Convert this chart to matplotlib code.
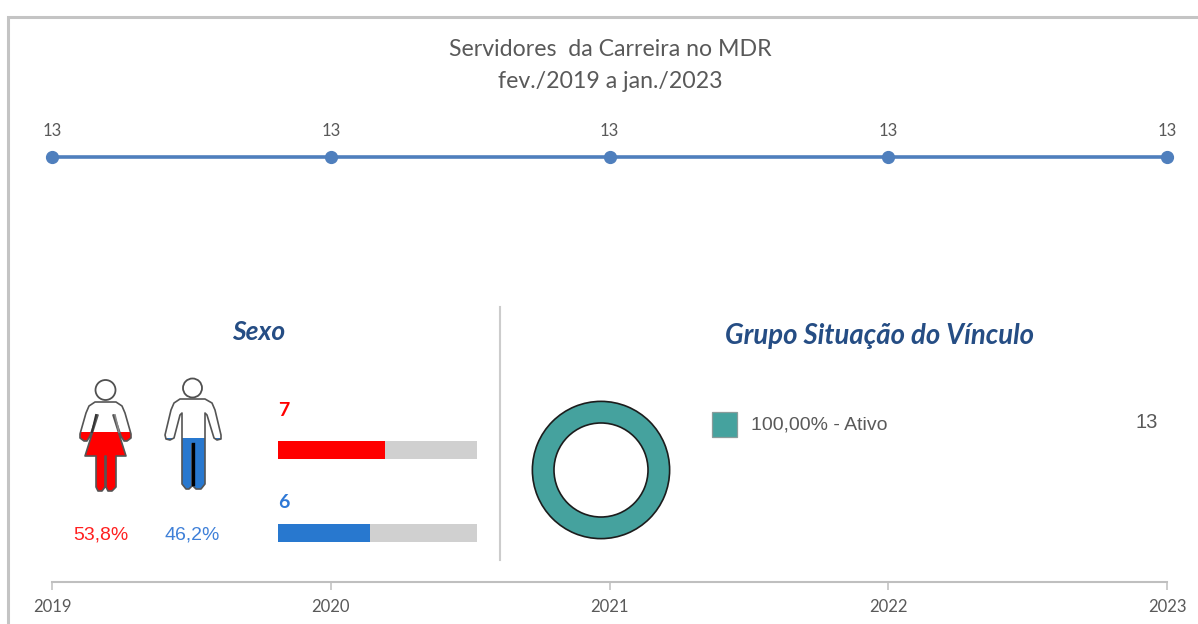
import numpy as np
import matplotlib
matplotlib.use('Agg')
from matplotlib import pyplot as plt
from matplotlib.patches import Circle, Polygon, Rectangle

W, H = 1198, 624

years = ['2019', '2020', '2021', '2022', '2023']
servidores = [13, 13, 13, 13, 13]
sexo_nomes = ['Feminino', 'Masculino']
sexo_valores = [7, 6]
sexo_pct = ['53,8%', '46,2%']
sexo_cores = ['#ff0000', '#2878cf']
vinculo_nomes = ['100,00% - Ativo']
vinculo_valores = [13]

TXT = '#595959'
CAL = 'Lato'
ARI = 'Liberation Sans'


def box(x0, y0, x1, y1):
    # pixel box (y from the top) to figure coords
    return [x0 / W, 1 - y1 / H, (x1 - x0) / W, (y1 - y0) / H]


fig = plt.figure(figsize=(W / 100, H / 100), dpi=100)

# overlay in pixels, for frame and icons
bg = fig.add_axes([0, 0, 1, 1], zorder=0)
bg.set_xlim(0, W)
bg.set_ylim(H, 0)
bg.axis('off')
bg.plot([8, 8, W], [H, 16.5, 16.5], color='#c4c4c4', lw=2.2, solid_joinstyle='miter')
bg.plot([499.5, 499.5], [307, 560], color='#cccccc', lw=1.5)

# main line
ax = fig.add_axes(box(52, 100, 1167, 582), zorder=1)
ax.patch.set_alpha(0)
x = np.arange(len(years))
ax.plot(x, servidores, color='#4f7fbd', lw=2.6, marker='o', ms=8.5, clip_on=False)
ax.set_xlim(0, len(years) - 1)
ax.set_ylim(0, 14.74)
ax.set_yticks([])
for s in ['top', 'left', 'right']:
    ax.spines[s].set_visible(False)
ax.spines['bottom'].set_color('#bfbfbf')
ax.spines['bottom'].set_linewidth(1.5)
ax.set_xticks(x)
ax.set_xticklabels(years, fontsize=12, color=TXT, family=CAL)
ax.tick_params(axis='x', length=6, width=1.1, color='#bfbfbf', pad=6)
for xi, v in zip(x, servidores):
    ax.annotate(str(v), (xi, v), xytext=(0, 13), textcoords='offset points', ha='center',
                va='bottom', fontsize=12, color=TXT, family=CAL, annotation_clip=False)

bg.text(610, 49.5, 'Servidores  da Carreira no MDR', ha='center', va='center', fontsize=16.7, color=TXT, family=CAL)
bg.text(610, 82, 'fev./2019 a jan./2023', ha='center', va='center', fontsize=16.7, color=TXT, family=CAL)
bg.text(258.5, 332, 'Sexo', ha='center', va='center', fontsize=19, color='#254d84', family=CAL,
        weight='bold', style='italic')
bg.text(879.5, 336, 'Grupo Situação do Vínculo', ha='center', va='center', fontsize=19.8, color='#254d84', family=CAL,
        weight='bold', style='italic')

# person icons, outlines read in pixels
mulher = [(95, 402), (116, 402), (122, 406), (125, 413), (131, 434), (131, 438), (127, 441), (124, 441),
          (121, 436), (114, 415), (113, 415), (126, 456), (116, 456), (116, 487), (112, 491), (108, 491),
          (106, 487), (106, 456), (105, 456), (105, 487), (102, 491), (98, 491), (96, 487), (96, 456),
          (85, 456), (98, 415), (97, 415), (90, 436), (87, 441), (84, 441), (80, 438), (80, 434),
          (86, 413), (89, 406)]
homem = [(180, 399), (205, 399), (212, 403), (215, 410), (221, 435), (221, 439), (217, 440), (214, 438),
         (207, 415), (205, 413), (205, 484), (201, 489), (196, 489), (193, 486), (193, 444), (192, 444),
         (192, 486), (189, 489), (186, 489), (182, 484), (182, 413), (180, 415), (174, 438), (170, 440),
         (166, 439), (165, 435), (171, 410), (174, 403)]
icones = [(mulher, (105.5, 390), 10, 432), (homem, (192.5, 388), 9.5, 438)]
for (pts, cab, r, nivel), cor in zip(icones, sexo_cores):
    bg.add_patch(Polygon(pts, closed=True, fc='white', ec='none', zorder=2))
    fill = Polygon(pts, closed=True, fc=cor, ec='none', zorder=3)
    bg.add_patch(fill)
    fill.set_clip_path(Rectangle((0, nivel), W, H, transform=bg.transData))
    bg.add_patch(Polygon(pts, closed=True, fc='none', ec='#555555', lw=1.2, joinstyle='round', zorder=4))
    bg.add_patch(Circle(cab, r, fc='white', ec='#505050', lw=1.3, zorder=4))
bg.plot([192.5, 192.5], [444, 484], color='black', lw=2.4, zorder=5)
bg.plot([96, 92], [415, 432], color='#333333', lw=1.4, zorder=5)
bg.plot([115, 119], [415, 432], color='#888888', lw=1.2, zorder=5)

for xt, pct, cor in zip([100.5, 192.5], sexo_pct, ['#ff2020', '#3f80d8']):
    bg.text(xt, 534.5, pct, ha='center', va='center', fontsize=14, color=cor, family=ARI)

# sex bars
axb = fig.add_axes(box(278, 400, 477, 560), zorder=1)
axb.set_xlim(0, 1)
axb.set_ylim(160, 0)
axb.axis('off')
total = sum(sexo_valores)
pos_bar = [50, 133]
pos_txt = [10, 102]
txt_cor = ['#ff0000', '#2e78d6']
for yb, yt, v, cor, tc in zip(pos_bar, pos_txt, sexo_valores, sexo_cores, txt_cor):
    axb.barh(yb, 1, height=18, color='#d0d0d0')
    axb.barh(yb, v / total, height=18, color=cor)
    axb.text(0, yt, str(v), ha='left', va='center', fontsize=14, color=tc, family=CAL, weight='bold', clip_on=False)

# donut
axd = fig.add_axes(box(531, 400, 671, 540), zorder=1)
axd.pie(vinculo_valores, colors=['#45a29e'], radius=1, startangle=90,
        wedgeprops=dict(width=0.315, edgecolor='#1c1c1c', linewidth=1.2))
axd.set_xlim(-1.02, 1.02)
axd.set_ylim(-1.02, 1.02)

bg.add_patch(Rectangle((712, 412), 25, 25, fc='#45a29e', ec='#8a9c9b', lw=0.9))
bg.text(751, 425, vinculo_nomes[0], ha='left', va='center', fontsize=14, color=TXT, family=ARI)
bg.text(1146.5, 423, str(vinculo_valores[0]), ha='center', va='center', fontsize=14.5, color=TXT, family=ARI)

plt.savefig('out.png', dpi=100)
